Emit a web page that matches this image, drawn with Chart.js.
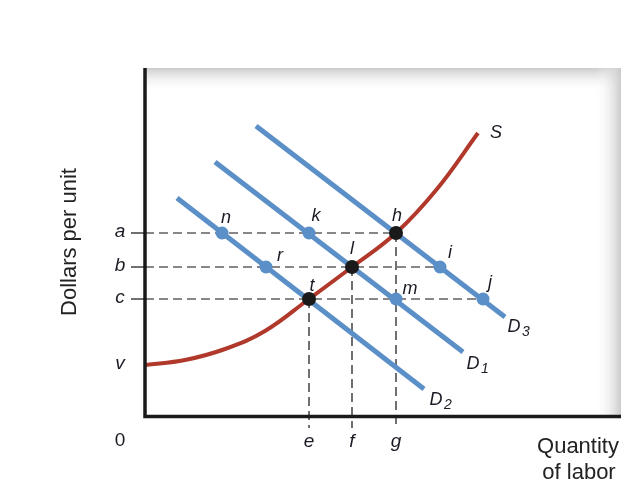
<!DOCTYPE html>
<html lang="en">
<head>
<meta charset="utf-8">
<title>Labor supply and demand</title>
<script src="https://cdn.jsdelivr.net/npm/chart.js@4.4.1/dist/chart.umd.min.js"></script>
<style>
  body { margin: 0; background: #fff; }
</style>
</head>
<body>
<canvas id="chart" width="628" height="495"></canvas>
<script>
// price levels on the y axis and quantities on the x axis (chart units)
const priceNames = ['a', 'b', 'c', 'v'];
const priceLevels = [182, 148, 116, 50];
const qtyNames = ['e', 'f', 'g'];
const qtyLevels = [164, 207, 251];

// demand curves (two end points each)
const demandNames = ['D1', 'D2', 'D3'];
const d1 = [{x: 70, y: 253}, {x: 318, y: 63}];
const d2 = [{x: 32, y: 217}, {x: 279, y: 26}];
const d3 = [{x: 111, y: 289}, {x: 360, y: 98}];

// supply curve S
const supply = [
  {x: 0, y: 50}, {x: 40, y: 55}, {x: 80, y: 66}, {x: 120, y: 84}, {x: 164, y: 116},
  {x: 207, y: 148}, {x: 251, y: 182}, {x: 292, y: 226}, {x: 333, y: 282}
];

// labelled points
const blueNames = ['n', 'k', 'r', 'i', 'm', 'j'];
const bluePts = [
  {x: 77, y: 182}, {x: 164, y: 182}, {x: 121, y: 148},
  {x: 295, y: 148}, {x: 251, y: 116}, {x: 338, y: 116}
];
const blackNames = ['h', 'l', 't'];
const blackPts = [{x: 251, y: 182}, {x: 207, y: 148}, {x: 164, y: 116}];

const BLUE = '#5b8fc7';
const RED = '#b0392b';
const INK = '#1a1a24';
const FONT = '"Liberation Sans", Arial, sans-serif';

// dashed guide lines
function dashed(points) {
  return {
    data: points, showLine: true, pointRadius: 0, borderColor: '#111',
    borderWidth: 1.2, borderDash: [9, 5], clip: false, order: 4
  };
}
const guides = [
  dashed([{x: 0, y: priceLevels[0]}, blackPts[0]]),
  dashed([{x: 0, y: priceLevels[1]}, bluePts[3]]),
  dashed([{x: 0, y: priceLevels[2]}, bluePts[5]]),
  dashed([{x: qtyLevels[0], y: priceLevels[2]}, {x: qtyLevels[0], y: -13}]),
  dashed([{x: qtyLevels[1], y: priceLevels[1]}, {x: qtyLevels[1], y: -13}]),
  dashed([{x: qtyLevels[2], y: priceLevels[0]}, {x: qtyLevels[2], y: -13}])
];

const decor = {
  id: 'decor',
  beforeDatasetsDraw(chart) {
    const {ctx, chartArea: a} = chart;
    ctx.save();
    // shaded top and right edges of the panel
    let g = ctx.createLinearGradient(0, a.top, 0, a.top + 24);
    g.addColorStop(0, '#cbcbcb');
    g.addColorStop(1, 'rgba(255,255,255,0)');
    ctx.fillStyle = g;
    ctx.fillRect(a.left, a.top, a.right - a.left, 24);
    g = ctx.createLinearGradient(a.right, 0, a.right - 26, 0);
    g.addColorStop(0, '#cbcbcb');
    g.addColorStop(1, 'rgba(255,255,255,0)');
    ctx.fillStyle = g;
    ctx.fillRect(a.right - 26, a.top, 26, a.bottom - a.top);
    ctx.restore();
  },
  afterDatasetsDraw(chart) {
    const {ctx, chartArea: a, scales: {x, y}} = chart;
    ctx.save();
    // axes
    ctx.strokeStyle = '#1a1a1a';
    ctx.lineWidth = 3.5;
    ctx.beginPath();
    ctx.moveTo(a.left, a.top);
    ctx.lineTo(a.left, a.bottom + 1.5);
    ctx.lineTo(a.right, a.bottom + 1.5);
    ctx.stroke();
    // tick stubs for a, b, c
    ctx.lineWidth = 1.2;
    ctx.strokeStyle = '#111';
    for (let i = 0; i < 3; i++) {
      const py = y.getPixelForValue(priceLevels[i]);
      ctx.beginPath();
      ctx.moveTo(a.left - 14, py);
      ctx.lineTo(a.left, py);
      ctx.stroke();
    }
    ctx.fillStyle = INK;
    ctx.textAlign = 'center';
    ctx.textBaseline = 'middle';
    // axis letters
    ctx.font = 'italic 19px ' + FONT;
    priceNames.forEach((n, i) => ctx.fillText(n, 120, y.getPixelForValue(priceLevels[i]) - 1));
    qtyNames.forEach((n, i) => ctx.fillText(n, x.getPixelForValue(qtyLevels[i]), 442));
    ctx.font = '19px ' + FONT;
    ctx.fillText('0', 120, 441);
    // point labels
    ctx.font = 'italic 18px ' + FONT;
    const off = {n: [4, -15], k: [7, -17], h: [1, -17], r: [14, -11], l: [0, -18],
                 i: [10, -14], t: [3, -13], m: [14, -10], j: [7, -16]};
    const put = (names, pts) => names.forEach((n, i) => {
      ctx.fillText(n, x.getPixelForValue(pts[i].x) + off[n][0], y.getPixelForValue(pts[i].y) + off[n][1]);
    });
    put(blueNames, bluePts);
    put(blackNames, blackPts);
    // curve labels
    const last = supply[supply.length - 1];
    ctx.fillText('S', x.getPixelForValue(last.x) + 18, y.getPixelForValue(last.y));
    const ends = [[d1[1], 10, 12], [d2[1], 12, 11], [d3[1], 9, 10]];
    demandNames.forEach((n, i) => {
      const [p, dx, dy] = ends[i];
      const px = x.getPixelForValue(p.x) + dx;
      const py = y.getPixelForValue(p.y) + dy;
      ctx.font = 'italic 18px ' + FONT;
      ctx.fillText('D', px, py);
      ctx.font = 'italic 14px ' + FONT;
      ctx.fillText(n.slice(1), px + 12, py + 5);
    });
    // axis titles
    ctx.font = '22px ' + FONT;
    ctx.fillStyle = '#222';
    ctx.fillText('Quantity', 578, 447);
    ctx.fillText('of labor', 579, 473);
    ctx.translate(70, 242);
    ctx.rotate(-Math.PI / 2);
    ctx.fillText('Dollars per unit', 0, 0);
    ctx.restore();
  }
};

new Chart(document.getElementById('chart'), {
  type: 'scatter',
  data: {
    datasets: [
      {data: bluePts, pointRadius: 6.5, pointBackgroundColor: BLUE, pointBorderWidth: 0, order: 0},
      {data: blackPts, pointRadius: 7, pointBackgroundColor: '#1a1a1a', pointBorderWidth: 0, order: 0},
      {data: supply, showLine: true, pointRadius: 0, borderColor: RED, borderWidth: 4,
       tension: 0.4, order: 1},
      {data: d1, showLine: true, pointRadius: 0, borderColor: BLUE, borderWidth: 5, order: 2},
      {data: d2, showLine: true, pointRadius: 0, borderColor: BLUE, borderWidth: 5, order: 2},
      {data: d3, showLine: true, pointRadius: 0, borderColor: BLUE, borderWidth: 5, order: 2},
      ...guides
    ]
  },
  options: {
    responsive: false,
    animation: false,
    layout: {padding: {left: 145, right: 7, top: 68, bottom: 80}},
    scales: {
      x: {type: 'linear', min: 0, max: 476, display: false},
      y: {type: 'linear', min: 0, max: 347, display: false}
    },
    plugins: {legend: {display: false}, tooltip: {enabled: false}}
  },
  plugins: [decor]
});
</script>
</body>
</html>
